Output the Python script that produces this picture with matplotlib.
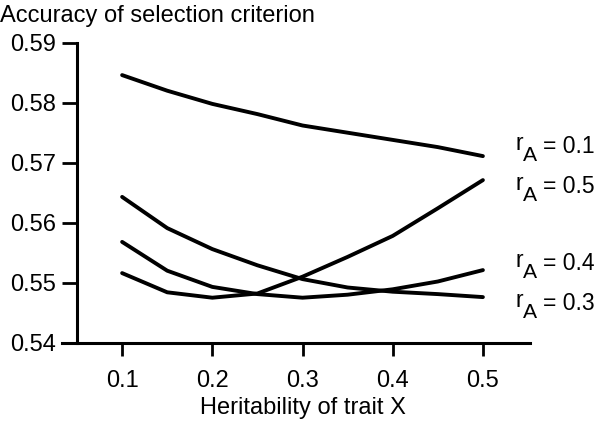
import numpy as np
import matplotlib
matplotlib.use("Agg")
import matplotlib.pyplot as plt

plt.rcParams['font.family'] = ['Liberation Sans', 'DejaVu Sans']

# heritability of trait X
h2 = [0.10, 0.15, 0.20, 0.25, 0.30, 0.35, 0.40, 0.45, 0.50]

# accuracy of selection criterion for each genetic correlation rA
acc_r01 = [0.5846, 0.5820, 0.5798, 0.5781, 0.5762, 0.5750, 0.5738, 0.5726, 0.5711]
acc_r05 = [0.5516, 0.5484, 0.5475, 0.5482, 0.5510, 0.5543, 0.5578, 0.5624, 0.5671]
acc_r03 = [0.5643, 0.5591, 0.5556, 0.5529, 0.5506, 0.5492, 0.5485, 0.5481, 0.5476]
acc_r04 = [0.5568, 0.5520, 0.5493, 0.5481, 0.5475, 0.5480, 0.5489, 0.5502, 0.5521]

labels = ['0.1', '0.5', '0.4', '0.3']
series = [acc_r01, acc_r05, acc_r04, acc_r03]
# baseline of the right-hand labels (data units)
label_y = [0.57162, 0.56495, 0.55212, 0.54545]

fig = plt.figure(figsize=(6.01, 4.25), dpi=100)
ax = fig.add_axes([62/601, 82.3/425, 468/601, 300/425])

for acc in series:
    ax.plot(h2, acc, color='black', lw=2.8, solid_capstyle='round',
            solid_joinstyle='round')

fs = 16.5
for lab, ly in zip(labels, label_y):
    # "r" slightly raised, "A" lowered as a subscript, then "= value"
    t_r = ax.annotate('r', xy=(0.5365, ly), xytext=(0, 2), textcoords='offset points',
                      fontsize=fs, va='baseline', ha='left', annotation_clip=False)
    t_a = ax.annotate('A', xy=(1, 0), xycoords=t_r, xytext=(0, -7),
                      textcoords='offset points', fontsize=fs * 0.92,
                      va='bottom', ha='left', annotation_clip=False)
    ax.annotate('= ' + lab, xy=(1, 0), xycoords=t_a, xytext=(4, 5),
                textcoords='offset points', fontsize=fs,
                va='bottom', ha='left', annotation_clip=False)

ax.set_xlim(0.1 - 60/900, 0.5 + 47/900)
ax.set_ylim(0.54, 0.59)
ax.set_xticks([0.1, 0.2, 0.3, 0.4, 0.5])
ax.set_xticklabels(['0.1', '0.2', '0.3', '0.4', '0.5'])
ax.set_yticks([0.54, 0.55, 0.56, 0.57, 0.58, 0.59])
ax.set_yticklabels(['0.54', '0.55', '0.56', '0.57', '0.58', '0.59'])

for s in ['top', 'right']:
    ax.spines[s].set_visible(False)
ax.spines['left'].set_position(('data', 0.05))
ax.spines['left'].set_bounds(0.54, 0.59)
ax.spines['left'].set_linewidth(2.2)
ax.spines['bottom'].set_linewidth(2.2)

ax.tick_params(axis='x', length=9, width=2, pad=11, labelsize=17)
ax.tick_params(axis='y', length=11, width=2, pad=4, labelsize=17)

ax.set_xlabel('Heritability of trait X', fontsize=17, labelpad=3)
ax.xaxis.label.set_x((303 - 62) / 468)
fig.text(0.0, 0.963, 'Accuracy of selection criterion', fontsize=17,
         ha='left', va='center')

fig.savefig('out.png', dpi=100)
